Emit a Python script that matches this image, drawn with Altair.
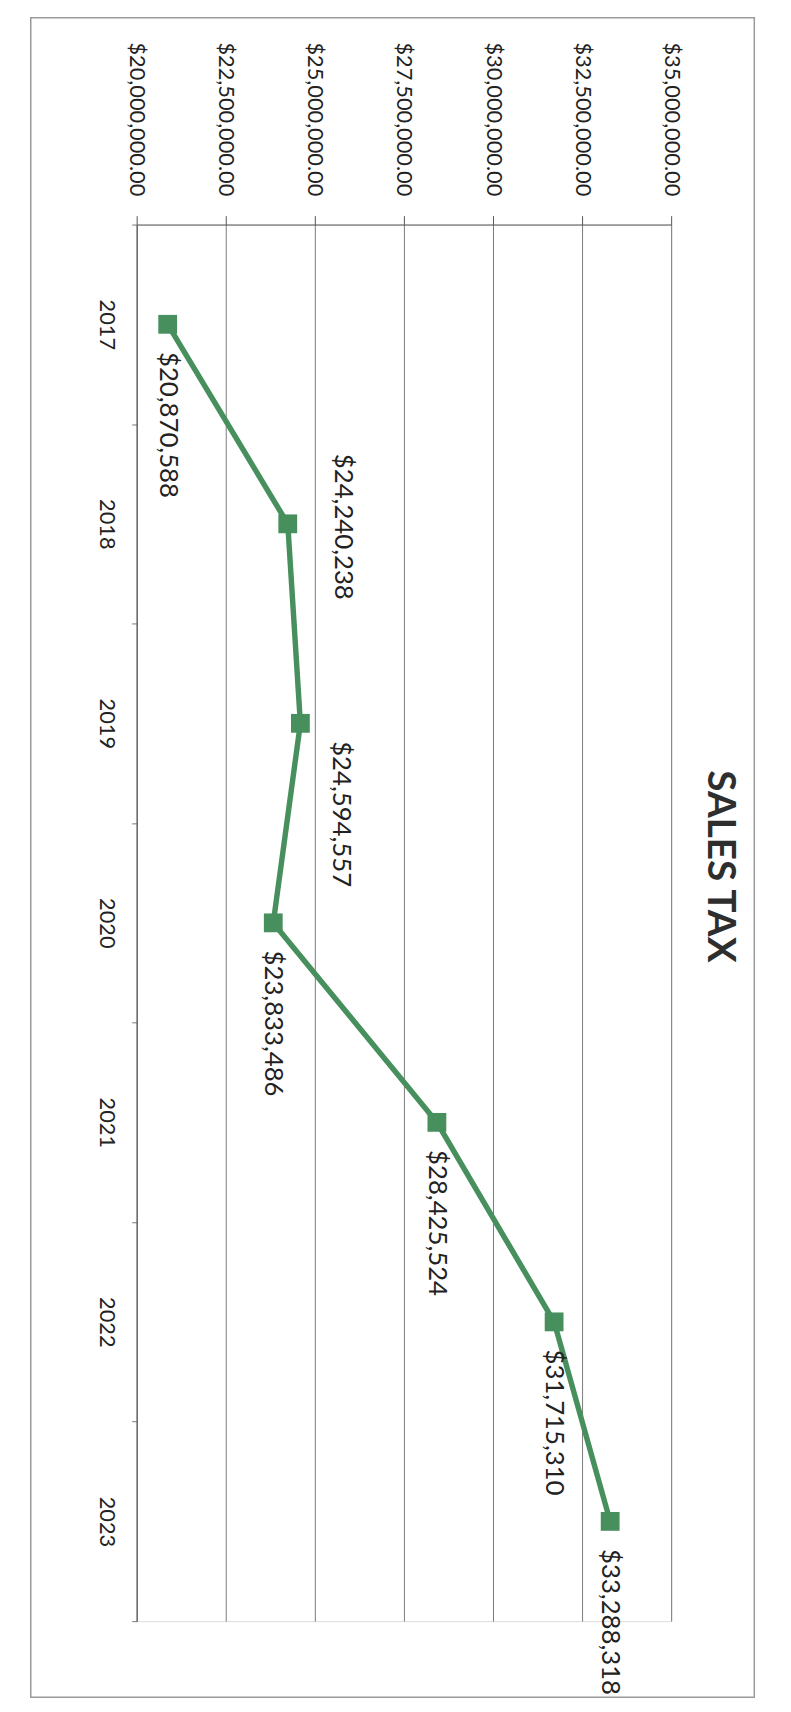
import altair as alt
import pandas as pd

# ---- data ----
years = ["2017", "2018", "2019", "2020", "2021", "2022", "2023"]
sales_tax = [20870588, 24240238, 24594557, 23833486, 28425524, 31715310, 33288318]
tick_values = [20000000, 22500000, 25000000, 27500000, 30000000, 32500000, 35000000]
chart_title = "SALES TAX"

df = pd.DataFrame({"year": years, "tax": sales_tax})
frame_df = pd.DataFrame({"k": [0]})

W, H = 540, 1411
FONT = "Lato"
GREEN = "#47905d"
TXT = "#222222"

x_enc = alt.X(
    "tax:Q",
    scale=alt.Scale(domain=[20000000, 35000000], nice=False, zero=False),
    axis=alt.Axis(
        orient="top", values=tick_values, format="$,.2f", title=None,
        labelAngle=90, labelAlign="right", labelBaseline="middle",
        labelPadding=20, tickSize=9, labelFontSize=22, labelFont=FONT,
        labelColor=TXT, domainColor="#555", tickColor="#555",
        gridColor="#7a7a7a", gridWidth=1, grid=True,
        labelFlush=False, labelOverlap=False,
    ),
)
y_enc = alt.Y(
    "year:O", sort=years,
    scale=alt.Scale(type="band", paddingInner=0, paddingOuter=0),
    axis=alt.Axis(
        orient="left", title=None, labelAngle=90, labelAlign="center",
        labelBaseline="top", labelPadding=16, tickSize=5, tickBand="extent",
        grid=False, labelFontSize=22, labelFont=FONT, labelColor=TXT,
        domainColor="#555", tickColor="#777",
    ),
)

base = alt.Chart(df)

line = base.mark_line(color=GREEN, strokeWidth=5.5).encode(x=x_enc, y=y_enc)
pts = base.mark_point(shape="square", filled=True, size=361, color=GREEN, opacity=1).encode(
    x="tax:Q", y=alt.Y("year:O", sort=years)
)

txt_common = dict(angle=90, font=FONT, fontSize=26, color=TXT, baseline="middle")
lab_default = base.transform_filter(
    alt.FieldOneOfPredicate(field="year", oneOf=["2017", "2020", "2021", "2022", "2023"])
).mark_text(align="left", dx=28, dy=0, **txt_common).encode(
    x="tax:Q", y=alt.Y("year:O", sort=years), text=alt.Text("tax:Q", format="$,.0f")
)
lab_2018 = base.transform_filter(alt.datum.year == "2018").mark_text(
    align="center", dx=3, dy=-56, **txt_common
).encode(x="tax:Q", y=alt.Y("year:O", sort=years), text=alt.Text("tax:Q", format="$,.0f"))
lab_2019 = base.transform_filter(alt.datum.year == "2019").mark_text(
    align="left", dx=18, dy=-41, **txt_common
).encode(x="tax:Q", y=alt.Y("year:O", sort=years), text=alt.Text("tax:Q", format="$,.0f"))

frame = alt.Chart(frame_df).mark_rect(fill=None, stroke="#9a9a9a", strokeWidth=1.5).encode(
    x=alt.value(-107), x2=alt.value(624), y=alt.value(-209), y2=alt.value(1488)
)

chart = alt.layer(frame, line, pts, lab_default, lab_2018, lab_2019).properties(
    width=W, height=H,
    title=alt.TitleParams(
        chart_title, orient="right", anchor="middle", angle=90, frame="group",
        fontSize=39, font=FONT, fontWeight="bold", color="#2e2e2e", offset=-56, dx=-57,
    ),
    autosize=alt.AutoSizeParams(type="none"),
    padding={"left": 130, "top": 210, "right": 113, "bottom": 83},
).configure_view(stroke=None).configure(background="white")

chart.save("out.html", embed_options={"renderer": "svg", "actions": False})
